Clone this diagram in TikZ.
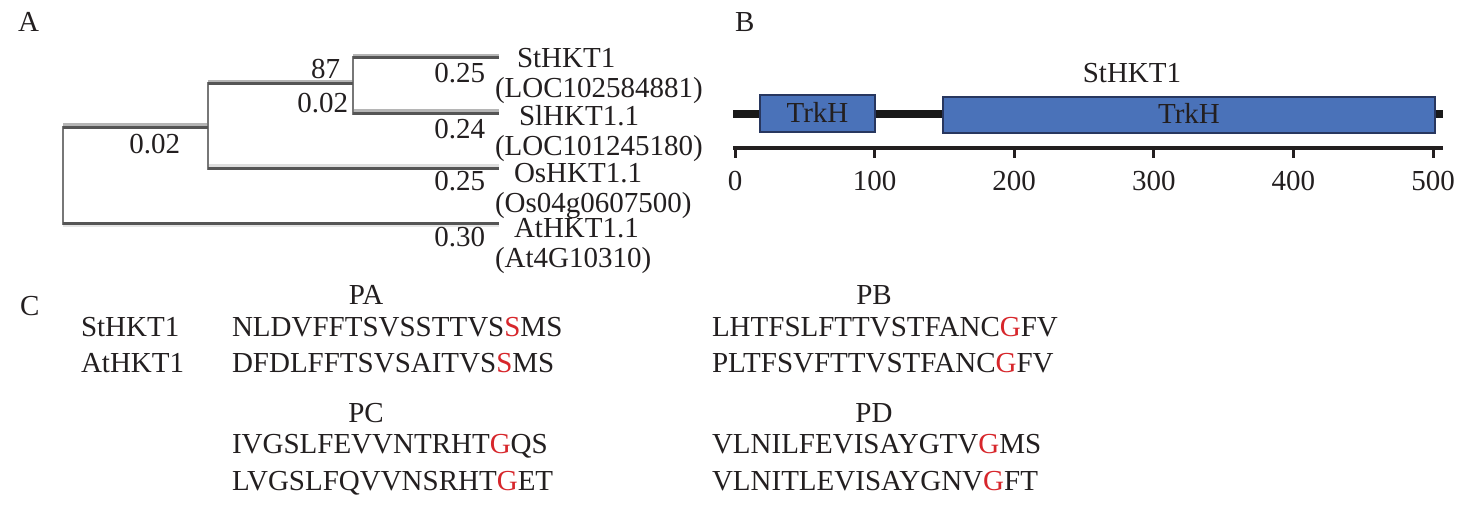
\documentclass[tikz,border=0pt]{standalone}
\usepackage{fontspec}
\setmainfont{Liberation Serif}
\usetikzlibrary{positioning}
\definecolor{txt}{HTML}{231F20}
\definecolor{seqred}{HTML}{D7262B}
\definecolor{brdark}{HTML}{555555}
\definecolor{brlight}{HTML}{B5B5B5}
\definecolor{boxfill}{HTML}{4A72B9}
\definecolor{boxedge}{HTML}{28375F}
\tikzset{
  lab/.style={inner sep=0pt, outer sep=0pt, text=txt, font=\fontsize{29}{34}\selectfont, anchor=base west},
  labc/.style={lab, anchor=base},
  labe/.style={lab, anchor=base east},
  branch/.style={draw=brdark, line width=3pt},
  branchhi/.style={draw=brlight, line width=3pt},
  vbranch/.style={draw=brdark!80, line width=2.8pt},
  trkbox/.style={draw=boxedge, fill=boxfill, line width=2.8pt},
  backbone/.style={draw=black!90, line width=8pt},
  axisline/.style={draw=txt, line width=3.4pt},
  tickmark/.style={draw=txt, line width=3pt},
}
\newcommand{\rd}[1]{\textcolor{seqred}{#1}}
\begin{document}
\begin{tikzpicture}[x=1pt,y=-1pt]
\useasboundingbox (0,0) rectangle (1465,519);
\fill[white] (0,0) rectangle (1465,519);

% ---------- Panel A : tree ----------
\node[lab] (labA) at (18,32) {A};
\coordinate (r1) at (63,127);
\coordinate (r2) at (63,223);
\coordinate (n1) at (208,127);
\coordinate (n1t) at (208,84);
\coordinate (n1b) at (208,168);
\coordinate (n2) at (353,84);
\coordinate (n2t) at (353,58);
\coordinate (n2b) at (353,113);
\coordinate (tSt) at (499,58);
\coordinate (tSl) at (499,113);
\coordinate (tOs) at (499,168);
\coordinate (tAt) at (499,223);
% light highlights above horizontal branches
\draw[branchhi] ([yshift=2.8pt]r1) -- ([yshift=2.8pt]n1);
\draw[branchhi] ([yshift=2.8pt]n1t) -- ([yshift=2.8pt]n2);
\draw[branchhi] ([yshift=2.8pt]n2t) -- ([yshift=2.8pt]tSt);
\draw[branchhi] ([yshift=2.8pt]n2b) -- ([yshift=2.8pt]tSl);
\draw[branchhi, draw=brlight!45] ([yshift=2.8pt]n1b) -- ([yshift=2.8pt]tOs);
\draw[branchhi, draw=brlight!35] ([yshift=-2.8pt]r2) -- ([yshift=-2.8pt]tAt);
% vertical branches
\draw[vbranch] ([yshift=1.5pt]r1) -- ([yshift=-1.5pt]r2);
\draw[vbranch] ([yshift=1.5pt]n1t) -- ([yshift=-1.5pt]n1b);
\draw[vbranch] ([yshift=1.5pt]n2t) -- ([yshift=-1.5pt]n2b);
% horizontal branches
\draw[branch] (r1) -- (n1);
\draw[branch] (n1t) -- (n2);
\draw[branch] (n2t) -- (tSt);
\draw[branch] (n2b) -- (tSl);
\draw[branch] (n1b) -- (tOs);
\draw[branch] (r2) -- (tAt);
% branch labels
\node[labe] (b87) at (340,78) {87};
\node[labe] (bn1) at (348,112) {0.02};
\node[labe] (broot) at (180,153) {0.02};
\node[labe] (bSt) at (485,83) {0.25};
\node[labe] (bSl) at (485,139) {0.24};
\node[labe] (bOs) at (485,190) {0.25};
\node[labe] (bAt) at (485,246) {0.30};
% leaf labels
\node[lab] (lSt) at (517,67) {StHKT1};
\node[lab] (lSt2) at (495,98) {(LOC102584881)};
\node[lab] (lSl) at (519,125) {SlHKT1.1};
\node[lab] (lSl2) at (495,155) {(LOC101245180)};
\node[lab] (lOs) at (514,182) {OsHKT1.1};
\node[lab] (lOs2) at (495,212) {(Os04g0607500)};
\node[lab] (lAt) at (514,237) {AtHKT1.1};
\node[lab] (lAt2) at (495,267) {(At4G10310)};

% ---------- Panel B : domains ----------
\node[lab] (labB) at (735,32) {B};
\node[labc] (title) at (1132,83) {StHKT1};
\coordinate (bbL) at (733,114);
\coordinate (bbR) at (1443,114);
\draw[backbone] (bbL) -- (bbR);
\draw[trkbox] (760,95) rectangle (875,132);
\draw[trkbox] (943,97) rectangle (1435,133);
\node[labc] (d1) at (817.5,122) {TrkH};
\node[labc] (d2) at (1189,124) {TrkH};
\coordinate (axL) at (733,148);
\coordinate (axR) at (1443,148);
\draw[axisline] (axL) -- (axR);
\foreach \v in {0,100,200,300,400,500}{
  \pgfmathsetmacro{\xx}{735+1.396*\v}
  \draw[tickmark] (\xx,147) -- (\xx,158);
  \node[labc] (t\v) at (\xx,190) {\v};
}

% ---------- Panel C : motifs ----------
\node[lab] (labC) at (20,315) {C};
\node[lab] (sSt) at (81,336) {StHKT1};
\node[lab] (sAt) at (81,372) {AtHKT1};
\node[labc] (PA) at (366,304) {PA};
\node[labc] (PB) at (874,304) {PB};
\node[labc] (PC) at (366,422) {PC};
\node[labc] (PD) at (874,422) {PD};
\node[lab] (sa1) at (232,336) {NLDVFFTSVSSTTVS\rd{S}MS};
\node[lab] (sa2) at (232,372) {DFDLFFTSVSAITVS\rd{S}MS};
\node[lab] (sb1) at (712,336) {LHTFSLFTTVSTFANC\rd{G}FV};
\node[lab] (sb2) at (712,372) {PLTFSVFTTVSTFANC\rd{G}FV};
\node[lab] (sc1) at (232,453) {IVGSLFEVVNTRHT\rd{G}QS};
\node[lab] (sc2) at (232,490) {LVGSLFQVVNSRHT\rd{G}ET};
\node[lab] (sd1) at (712,453) {VLNILFEVISAYGTV\rd{G}MS};
\node[lab] (sd2) at (712,490) {VLNITLEVISAYGNV\rd{G}FT};
\end{tikzpicture}
\end{document}
